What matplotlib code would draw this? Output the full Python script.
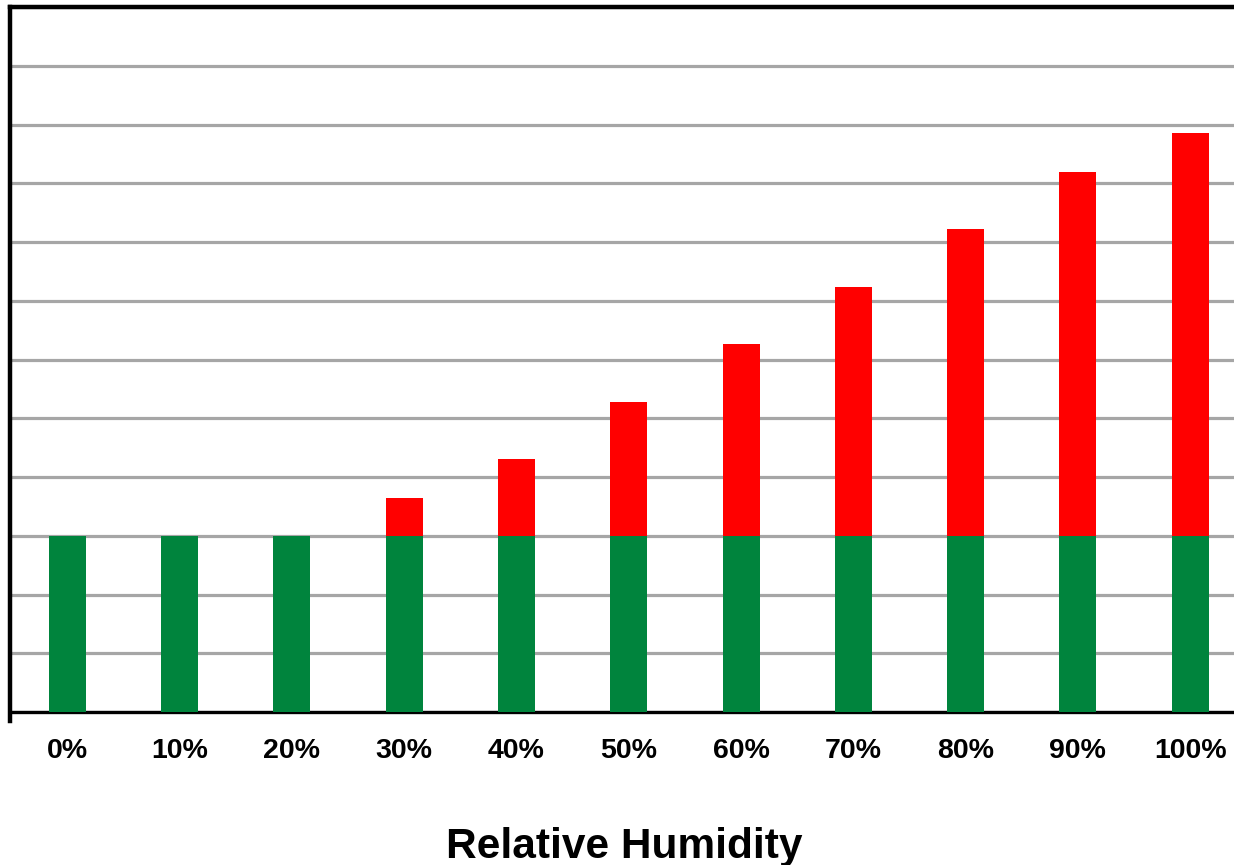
import matplotlib.pyplot as plt
import numpy as np

# data
humidity_labels = ["0%", "10%", "20%", "30%", "40%", "50%", "60%", "70%", "80%", "90%", "100%"]
base_values = [3, 3, 3, 3, 3, 3, 3, 3, 3, 3, 3]
extra_values = [0, 0, 0, 0.64, 1.31, 2.28, 3.26, 4.23, 5.22, 6.19, 6.86]

GREEN = "#00843D"
RED = "#FF0000"
GRID = "#A6A6A6"

plt.rcParams["font.family"] = ["Liberation Sans", "DejaVu Sans"]

fig = plt.figure(figsize=[12.34, 8.65], dpi=100)
ax = fig.add_axes([10 / 1234, 1 - 712 / 865, 1 - 10 / 1234, (712 - 7) / 865])

x = np.arange(len(humidity_labels))
ax.bar(x, base_values, width=0.33, color=GREEN, zorder=3)
ax.bar(x, extra_values, width=0.33, bottom=base_values, color=RED, zorder=3)

ax.set_xlim(-0.51, 10.39)
ax.set_ylim(0, 12)

# horizontal grid
ax.set_yticks(np.arange(0, 13, 1))
ax.yaxis.grid(True, color=GRID, linewidth=2.3, zorder=0)
ax.set_axisbelow(True)
ax.tick_params(axis="y", left=False, labelleft=False)

ax.set_xticks(x)
ax.set_xticklabels(humidity_labels, fontsize=20.5, fontweight="bold")
ax.tick_params(axis="x", bottom=False, pad=15)

ax.spines["right"].set_visible(False)
ax.spines["top"].set_linewidth(3.2)
ax.spines["bottom"].set_linewidth(2.4)
ax.spines["left"].set_linewidth(3.2)
ax.spines["left"].set_bounds(-0.15, 12)

fig.text(0.5055, 1 - 847 / 865, "Relative Humidity", ha="center", va="center",
         fontsize=30.5, fontweight="bold")

fig.savefig("out.png", dpi=100)
